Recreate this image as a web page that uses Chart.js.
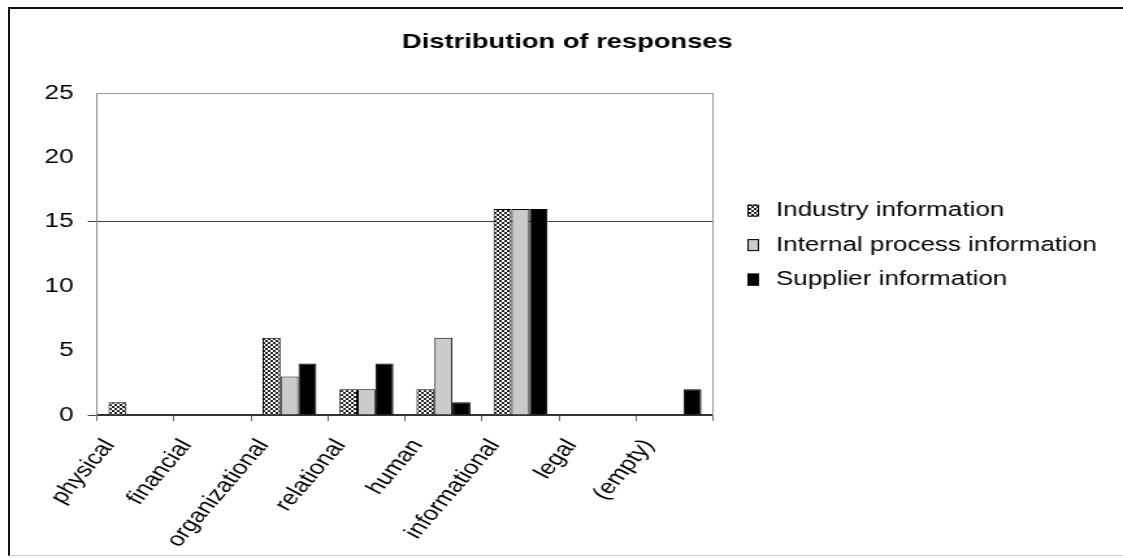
<!DOCTYPE html>
<html>
<head>
<meta charset="utf-8">
<script src="https://cdn.jsdelivr.net/npm/chart.js@4.4.1/dist/chart.umd.min.js"></script>
<style>
  html, body { margin: 0; padding: 0; background: #fff; }
  #wrap { position: relative; width: 1123px; height: 558px; overflow: hidden; }
  #frame { position: absolute; left: 8px; top: 7px; right: 0; bottom: 2px; border-top: 2px solid #111; border-left: 2px solid #111; border-bottom: 1px solid #ccc; pointer-events: none; }
</style>
</head>
<body>
<div id="wrap">
  <!-- the reference is a horizontally stretched picture, so draw narrow and stretch -->
  <canvas id="chart" width="864" height="558" style="display:block;width:1123px;height:558px"></canvas>
  <div id="frame"></div>
</div>
<script>
// Data
const categories = ['physical', 'financial', 'organizational', 'relational', 'human', 'informational', 'legal', '(empty)'];
const seriesNames = ['Industry information', 'Internal process information', 'Supplier information'];
const industry = [1, 0, 6, 2, 2, 16, 0, 0];
const internalProcess = [0, 0, 3, 2, 6, 16, 0, 0];
const supplier = [0, 0, 4, 4, 1, 16, 0, 2];
const yTicks = [0, 5, 10, 15, 20, 25];

const FONT = "'Liberation Sans', Arial, sans-serif";

// small fill patterns like the old excel bars
function checker(a, b, cell) {
  const c = document.createElement('canvas');
  c.width = c.height = cell * 2;
  const g = c.getContext('2d');
  g.fillStyle = a;
  g.fillRect(0, 0, cell * 2, cell * 2);
  g.fillStyle = b;
  g.fillRect(0, 0, cell, cell);
  g.fillRect(cell, cell, cell, cell);
  return g.createPattern(c, 'repeat');
}

const industryFill = checker('#ffffff', '#222222', 2);
const internalFill = checker('#c4c4c4', '#d2d2d2', 1);

// legend drawn to the right of the plot (the built-in one is capped in width)
const sideLegend = {
  id: 'sideLegend',
  afterDraw(chart) {
    const {ctx, chartArea} = chart;
    const x = chartArea.right + 26.5;
    const mid = (chartArea.top + chartArea.bottom) / 2 - 9;
    ctx.save();
    ctx.font = '20px ' + FONT;
    ctx.textBaseline = 'middle';
    chart.data.datasets.forEach((ds, i) => {
      const y = mid + (i - 1) * 34.5;
      ctx.fillStyle = ds.backgroundColor;
      ctx.fillRect(x, y - 6, 9, 12);
      ctx.strokeStyle = '#000';
      ctx.lineWidth = 1;
      ctx.strokeRect(x + 0.5, y - 5.5, 8, 11);
      ctx.fillStyle = '#000';
      ctx.fillText(ds.label, x + 22, y);
    });
    ctx.restore();
  }
};

!function(){
  const ctx = document.getElementById('chart');

  new Chart(ctx, {
    type: 'bar',
    data: {
      labels: categories,
      datasets: [{
        label: seriesNames[0],
        data: industry,
        backgroundColor: industryFill,
        borderColor: '#000',
        borderWidth: 1
      }, {
        label: seriesNames[1],
        data: internalProcess,
        backgroundColor: internalFill,
        borderColor: '#000',
        borderWidth: 1
      }, {
        label: seriesNames[2],
        data: supplier,
        backgroundColor: '#000',
        borderColor: '#000',
        borderWidth: 1
      }]
    },
    options: {
      responsive: false,
      animation: false,
      devicePixelRatio: 1,
      categoryPercentage: 0.7,
      barPercentage: 1.0,
      layout: { padding: { left: 22, right: 13, top: 8, bottom: 4 } },
      plugins: {
        title: {
          display: true,
          text: 'Distribution of responses',
          color: '#000',
          font: { family: FONT, size: 21, weight: 'bold' },
          padding: { top: 22, bottom: 38 }
        },
        legend: { display: false },
        tooltip: { enabled: false }
      },
      scales: {
        x: {
          grid: {
            display: true,
            color: 'rgba(0,0,0,0)',
            tickColor: '#666',
            tickLength: 6
          },
          border: { display: true, color: '#333', width: 2 },
          ticks: {
            color: '#000',
            font: { family: FONT, size: 20 },
            minRotation: 56,
            maxRotation: 56,
            autoSkip: false,
            padding: 14,
            labelOffset: -20
          },
          afterFit: s => { s.height = 139; }
        },
        y: {
          min: 0,
          max: 25,
          afterBuildTicks: s => { s.ticks = yTicks.map(v => ({ value: v })); },
          grid: {
            color: c => c.tick && c.tick.value === 15 ? '#444' : (c.tick && c.tick.value === 25 ? '#999' : 'rgba(0,0,0,0)'),
            tickColor: c => c.tick && (c.tick.value === 15 || c.tick.value === 0) ? '#444' : 'rgba(0,0,0,0)',
            tickLength: 7
          },
          border: { display: true, color: '#888', width: 1 },
          ticks: {
            color: '#000',
            font: { family: FONT, size: 20 },
            padding: 11
          },
          afterFit: s => { s.width = 52.6; }
        },
        // empty right axis: gives the plot its right edge and keeps room for the legend
        y2: {
          position: 'right',
          grid: { display: true, color: 'rgba(0,0,0,0)', drawTicks: false },
          border: { display: true, color: '#999', width: 1 },
          ticks: { display: false },
          afterFit: s => { s.width = 302.5; }
        }
      }
    },
    plugins: [sideLegend]
  });
}();
</script>
</body>
</html>
